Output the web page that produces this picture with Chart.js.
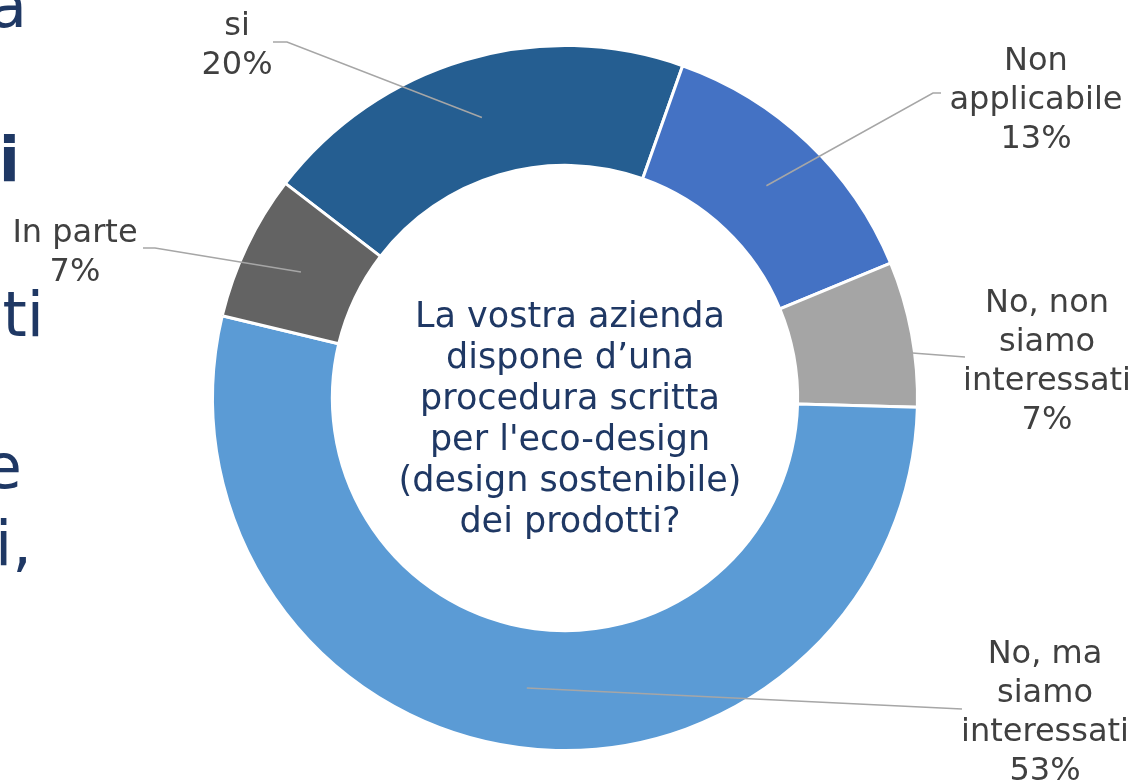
<!DOCTYPE html>
<html lang="it">
<head>
<meta charset="utf-8">
<title>Eco-design</title>
<script src="https://cdn.jsdelivr.net/npm/chart.js@4.4.1/dist/chart.umd.min.js"></script>
<style>
html, body { margin: 0; padding: 0; background: #fff; }
#wrap { position: relative; width: 1129px; height: 782px; overflow: hidden; }
</style>
</head>
<body>
<div id="wrap"><canvas id="chart" width="1129" height="782"></canvas></div>
<script>
// dati (15 risposte in tutto)
const categories = ['si', 'Non applicabile', 'No, non siamo interessati', 'No, ma siamo interessati', 'In parte'];
const answers = [3, 2, 1, 8, 1];
const labelLines = [['si'], ['Non', 'applicabile'], ['No, non', 'siamo', 'interessati'], ['No, ma', 'siamo', 'interessati'], ['In parte']];
const question = ['La vostra azienda', 'dispone d\u2019una', 'procedura scritta', "per l'eco-design", '(design sostenibile)', 'dei prodotti?'];
// frammenti del testo della slide tagliati a sinistra
const sideText = ['a', 'li', 'sti', 'e', 'si,'];

const sliceColors = ['#255E91', '#4472C4', '#A5A5A5', '#5B9BD5', '#636363'];

// posizione etichette (centro testo, prima baseline), punti della linea guida,
// profondità nell'anello e posizione lungo l'arco dell'attacco
const labelLayout = [
    { x: 237, y: 35, bend: [[287, 42], [273, 42]], depth: 0.5, along: 0.5 },
    { x: 1036, y: 70, bend: [[933, 93], [941, 93]], depth: 0.5, along: 0.5 },
    { x: 1047, y: 312, bend: [[965, 357]], depth: 0.98, along: 0.63 },
    { x: 1045, y: 663, bend: [[962, 709]], depth: 0.5, along: 0.5 },
    { x: 75, y: 242, bend: [[155, 248], [143, 248]], depth: 0.5, along: 0.5 }
];
const sideLayout = [
    { x: 27, y: 27, bold: false },
    { x: 20, y: 181, bold: true },
    { x: 44, y: 336, bold: false },
    { x: 22, y: 488, bold: false },
    { x: 32, y: 565, bold: false }
];

const leaderLabels = {
    id: 'leaderLabels',
    afterDatasetsDraw(chart) {
        const ctx = chart.ctx;
        const arcs = chart.getDatasetMeta(0).data;
        const total = answers.reduce((a, b) => a + b, 0);
        ctx.save();
        arcs.forEach((arc, i) => {
            const p = arc.getProps(['x', 'y', 'startAngle', 'endAngle', 'innerRadius', 'outerRadius'], true);
            const lay = labelLayout[i];
            const ang = p.startAngle + lay.along * (p.endAngle - p.startAngle);
            const r = p.innerRadius + lay.depth * (p.outerRadius - p.innerRadius);
            ctx.beginPath();
            ctx.moveTo(p.x + Math.cos(ang) * r, p.y + Math.sin(ang) * r);
            lay.bend.forEach(pt => ctx.lineTo(pt[0], pt[1]));
            ctx.strokeStyle = '#A6A6A6';
            ctx.lineWidth = 1.5;
            ctx.stroke();

            const lines = labelLines[i].concat(Math.round(answers[i] / total * 100) + '%');
            ctx.fillStyle = '#404040';
            ctx.font = '32px "DejaVu Sans"';
            ctx.textAlign = 'center';
            ctx.textBaseline = 'alphabetic';
            lines.forEach((t, k) => ctx.fillText(t, lay.x, lay.y + k * 39));
        });

        // domanda al centro
        const c = arcs[0];
        ctx.fillStyle = '#1F3864';
        ctx.font = '35px "DejaVu Sans"';
        ctx.textAlign = 'center';
        question.forEach((t, k) => ctx.fillText(t, c.x + 5, 327 + k * 41));

        // testo della slide a sinistra
        ctx.textAlign = 'right';
        sideText.forEach((t, k) => {
            const s = sideLayout[k];
            ctx.font = (s.bold ? 'bold ' : '') + '62px "DejaVu Sans"';
            ctx.fillText(t, s.x, s.y);
        });
        ctx.restore();
    }
};

new Chart(document.getElementById('chart'), {
    type: 'doughnut',
    data: {
        labels: categories,
        datasets: [{
            data: answers,
            backgroundColor: sliceColors,
            borderColor: '#ffffff',
            borderWidth: 3
        }]
    },
    options: {
        responsive: false,
        animation: false,
        rotation: -52.5,
        cutout: '66%',
        layout: { padding: { left: 211, right: 210, top: 43, bottom: 29 } },
        plugins: {
            legend: { display: false },
            tooltip: { enabled: false }
        }
    },
    plugins: [leaderLabels]
});
</script>
</body>
</html>
